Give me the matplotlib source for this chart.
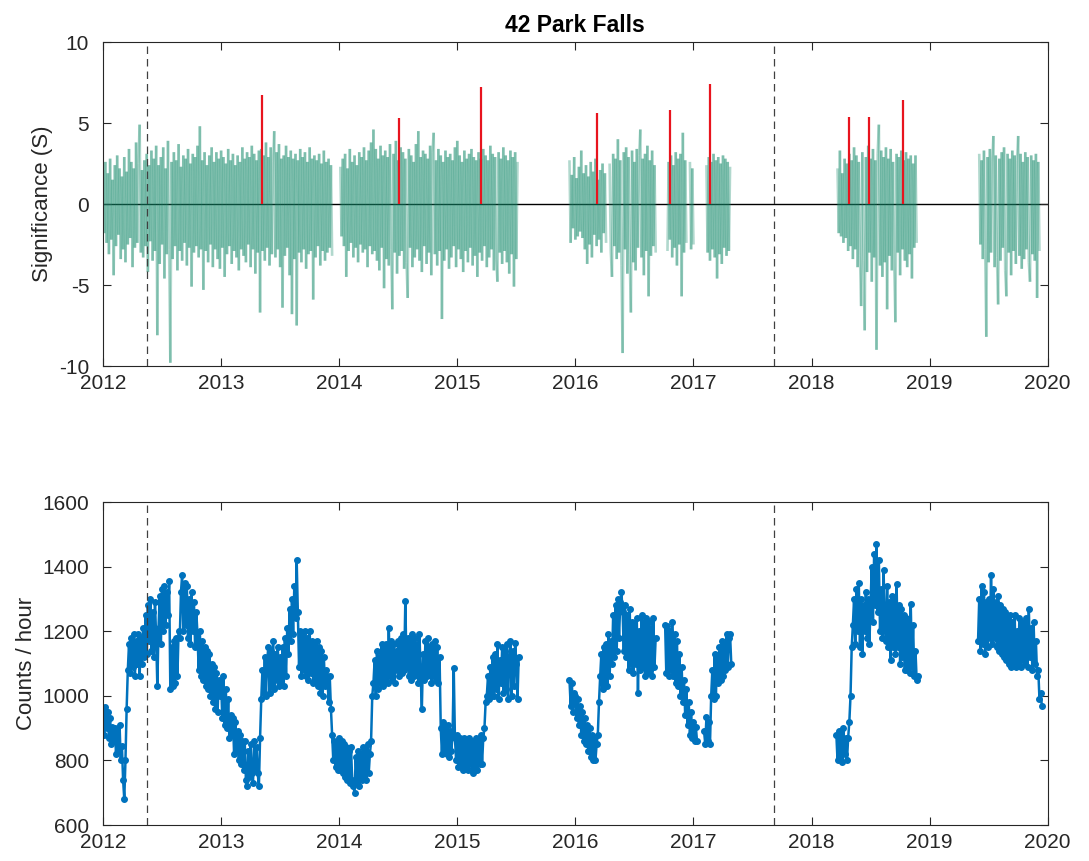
import numpy as np
import matplotlib.pyplot as plt
from matplotlib.collections import LineCollection

plt.rcParams['font.family'] = ['Liberation Sans', 'DejaVu Sans']
plt.rcParams['axes.unicode_minus'] = False

step = 0.01  # sample spacing, years

# ---- significance (S), one list per observing run ----
sig_a_start = 2012.00
sig_a = [2.1, -1.8, 2.6, -2.4, 1.9, -3.1, 2.8, -2.2, 1.5, -4.4, 2.4, -2.6, 3.0, -1.9, 2.2, -3.4, 1.7, -2.8, 2.9, -3.6,
         2.0, -2.5, 3.4, -2.1, 2.6, -3.9, 2.2, -2.7, 3.8, -2.4, 2.5, 4.9, -3.0, 2.1, -3.3, 2.7, -2.6, 3.1, -4.2, 2.4,
         -2.3, 3.3, -3.5, 2.8, -2.9, 3.6, -8.1, 2.4, -3.7, 2.9, -2.5, 3.5, -4.6, 2.2, -3.1, 3.9, -2.8, -9.8, 2.6, -3.4,
         3.2, -2.6, 2.7, -4.1, 3.7, -2.9, 2.3, -3.5, 3.0, -2.4, 2.8, -3.8, 3.4, -2.7, 2.5, -5.1, 3.1, -3.0, 2.9, -2.6,
         3.6, -3.3, 4.8, -2.8, 2.7, -5.3, 3.2, -2.9, 2.4, -3.6, 3.0, -2.5, 3.5, -3.9, 2.6, -2.8, 3.2, -3.4, 2.8, -4.0,
         3.3, -2.7, 2.9, -4.5, 2.5, -3.1, 3.4, -2.6, 2.7, -3.7, 3.1, -2.9, 2.4, -3.3, 3.0, -4.1, 2.6, -2.8, 3.5, -3.2,
         2.8, -3.6, 3.2, -2.5, 2.9, -3.9, 3.6, -2.8, 3.1, -4.3, 2.7, -3.0, 3.3, -6.7, 3.4, -2.9, 3.0, -3.5, 3.8, -2.7,
         2.9, -3.8, 3.5, -3.1, 2.6, 4.5, -3.3, 3.2, -2.8, 3.7, -3.9, 2.8, -6.4, 3.0, -3.2, 3.6, -2.7, 2.9, -4.4, 3.3,
         -6.8, 2.8, -3.4, 3.1, -7.5, 2.7, -3.0, 3.4, -3.6, 2.9, -2.8, 3.2, -4.0, 2.6, -3.1, 3.5, -2.9, 2.8, -5.9, 3.0,
         -3.3, 2.7, -2.6, 3.1, -3.8, 2.5, -2.9, 3.3, -3.5, 2.6, -3.0, 2.8, -2.7, 2.4, -3.2]
sig_b_start = 2014.01
sig_b = [2.3, -2.0, 2.8, -2.6, 3.1, -4.5, 2.2, -2.9, 3.4, -2.4, 2.6, -3.3, 3.0, -2.7, 2.4, -3.6, 3.2, -2.5, 2.9, -3.0,
         3.5, -2.8, 2.7, -3.9, 3.3, -2.6, 3.8, -3.1, 4.6, -2.9, 3.4, -3.5, 2.8, -4.1, 3.6, -2.7, 3.0, -5.2, 3.3, -3.4,
         2.9, -3.8, 3.7, -2.8, -6.5, 3.1, -3.0, 3.9, -4.3, 2.7, -3.2, 3.5, -2.9, 3.2, -4.0, 2.8, -3.6, -5.8, 3.4, -2.7,
         3.0, -3.9, 2.6, -3.3, 3.7, -2.8, 4.5, -3.5, 2.9, -4.2, 3.3, -2.6, 3.1, -3.7, 2.8, -3.0, 3.6, -4.4, 3.2, 4.4,
         -3.1, 2.7, -3.8, 3.4, -2.9, 3.0, -7.1, 2.6, -3.5, 3.3, -2.8, 2.9, -4.0, 3.1, -3.3, 2.7, -2.6, 3.5, -3.9, 3.9,
         -2.8, 3.0, -3.4, 2.6, -4.2, 3.3, -2.9, 2.8, -3.6, 3.1, -2.7, 3.4, -3.8, 2.9, -3.2, 2.7, -4.5, 3.2, -3.0, 2.8,
         -3.5, 3.4, -2.6, 3.0, -3.9, 2.7, -3.3, 3.6, -2.8, 3.1, -4.1, 2.9, -3.4, -4.8, 3.2, -3.0, 2.8, -3.7, 3.5, -2.9,
         3.0, -3.6, 2.7, -4.3, 3.3, -3.1, 2.9, -5.1, 3.2, -3.4, 2.6]
sig_c1_start = 2015.95
sig_c1 = [2.7, -2.4, 1.8, -1.5, 2.9, -2.2, 1.6, -2.0, 2.3, -1.7, 3.3, -2.1, 1.9, -2.8, 2.4, -3.7,
          1.7, -2.5, 2.6, -3.3, 2.0, -1.9, 2.8, -2.6, 1.5, -2.2, 2.1, -3.0, 2.5, -1.8, 1.9, -2.4]
sig_c2_start = 2016.29
sig_c2 = [2.5, -2.9, -4.5, 3.1, -2.6, 2.8, -3.4, 4.0, -3.0, 2.7, -3.8, -9.2, 3.2, -2.8, 3.5, -4.3, 2.9, -3.1, -6.7, 3.3,
          -3.6, 2.6, -4.1, 3.4, -2.7, 3.0, 4.6, -3.3, 2.8, -4.4, 3.1, -2.9, 3.6, -5.7, 2.7, -3.2, 3.3, -2.6, 2.4, -3.0]
sig_c3_start = 2016.78
sig_c3 = [-2.9, 2.6, -2.2, 3.0, -3.3, 2.4, -2.7, 3.2, -3.8, 2.8, -2.5, 3.1, -5.7, 4.4, -3.0, 2.7, -2.4]
sig_c4_start = 2016.97
sig_c4 = [2.6, -2.8, 2.2, -2.5]
sig_c5_start = 2017.11
sig_c5 = [2.4, -3.0, 2.9, -3.5, 2.6, -2.8, 3.1, -3.3, 2.7, -4.6, 2.9, -3.1, 2.5, -3.7, 3.0, -2.7, 2.8, -3.2, 2.6, -2.9, 2.3]
sig_d_start = 2018.22
sig_d = [2.2, -1.8, 3.3, -2.0, 1.9, -2.4, 2.8, -2.1, 2.5, -2.9, 3.1, -2.6, 2.7, -3.4, 3.5, -2.8, 3.0, -3.9, 2.6, -3.2,
         -6.3, 3.2, -3.5, -7.8, 2.9, -4.2, 3.6, -3.0, 2.8, -4.8, 3.4, -3.3, 2.7, -9.0, 3.1, 4.9, -3.8, 3.3, -4.5, 2.9,
         -3.6, 3.5, -6.5, 2.8, -3.2, 3.4, -4.1, 2.6, -3.7, -7.3, 3.1, -3.0, 2.9, -4.4, 3.3, -2.8, 2.7, -3.5, 3.2, -3.9,
         2.8, -3.1, 3.0, -4.6, 2.5, -2.7, 3.0, -2.4]
sig_e_start = 2019.42
sig_e = [3.1, -2.5, 2.7, -3.4, 3.3, -2.8, -8.2, 2.9, -3.6, 3.4, -3.0, 2.6, 4.2, -3.9, 3.0, -3.3, -6.2, 2.8, -3.5, 3.2,
         -2.7, 3.5, -4.1, -5.7, 3.1, -3.0, 2.8, -4.4, 3.3, -2.9, 3.0, -3.7, 2.7, 4.2, -3.2, 3.1, -4.0, 2.6, -3.4, 3.2,
         -2.8, 2.9, -3.6, -4.8, 3.0, -3.1, 2.7, -3.5, 3.1, -5.8, 2.6, -2.9]

# significant detections
event_years = [2013.349, 2014.507, 2015.200, 2016.180, 2016.800, 2017.140, 2018.314, 2018.490, 2018.777]
event_sig = [6.7, 5.3, 7.2, 5.6, 5.8, 7.4, 5.4, 5.4, 6.4]

# reference dates (dashed)
mark_years = [2012.372, 2017.684]

# ---- count rate (counts / hour) ----
cnt_a_start = 2012.00
cnt_a = [960, 880, 965, 900, 950, 870, 930, 850, 905, 860,
         900, 820, 885, 830, 910, 800, 845, 740, 680, 800,
         960, 1080, 1160, 1070, 1180, 1090, 1190, 1060, 1170, 1100,
         1190, 1060, 1180, 1100, 1210, 1120, 1250, 1130, 1280, 1170,
         1300, 1140, 1260, 1120, 1290, 1180, 1030, 1210, 1310, 1160,
         1330, 1200, 1340, 1220, 1320, 1250, 1355, 1020, 1150, 1030,
         1170, 1040, 1180, 1060, 1200, 1180, 1320, 1375, 1200, 1350,
         1220, 1340, 1180, 1300, 1160, 1320, 1200, 1290, 1150, 1260,
         1190, 1080, 1200, 1060, 1170, 1050, 1150, 1030, 1140, 1020,
         1130, 1000, 1100, 980, 1090, 960, 1070, 950, 1050, 1000,
         1040, 930, 1060, 910, 1020, 900, 990, 870, 940, 880,
         930, 820, 920, 830, 890, 800, 880, 790, 860, 770,
         860, 740, 720, 830, 750, 850, 760, 730, 860, 770,
         840, 760, 720, 870, 990, 1080, 1010, 1120, 1000, 1110,
         1150, 1010, 1140, 1030, 1170, 1020, 1130, 1050, 1150, 1030,
         1120, 1040, 1150, 1030, 1180, 1060, 1210, 1130, 1270, 1170,
         1300, 1190, 1340, 1240, 1420, 1260, 1090, 1200, 1060, 1190,
         1080, 1200, 1060, 1180, 1050, 1200, 1070, 1170, 1040, 1160,
         1050, 1170, 1030, 1150, 1010, 1140, 1000, 1120, 1030, 1080,
         1060, 980, 1060, 960, 880, 800, 860, 780, 850, 770,
         870, 770, 860, 760, 850, 750, 840, 740, 830, 730,
         840, 740, 720, 700, 810, 730, 830, 720, 820, 740,
         840, 750, 830, 740, 850, 760, 820, 860, 1000, 1040,
         1110, 1000, 1140, 1020, 1120, 1040, 1160, 1030, 1150, 1050,
         1160, 1040, 1210, 1060, 1170, 1050, 1160, 1040, 1140, 1080,
         1170, 1060, 1180, 1070, 1190, 1080, 1295, 1090, 1180, 1060,
         1170, 1050, 1190, 1060, 1180, 1070, 1160, 1040, 1190, 1060,
         960, 1130, 1050, 1170, 1060, 1180, 1070, 1150, 1040, 1160,
         1060, 1170, 1050, 1150, 1040, 1120, 900, 820, 920, 830,
         900, 820, 910, 810, 890, 830, 880, 1085, 870, 800,
         880, 780, 870, 790, 860, 770, 870, 780, 860, 770,
         870, 790, 860, 760, 850, 780, 870, 770, 860, 790,
         880, 790, 870, 900, 980, 1000, 1060, 990, 1090, 1000,
         1120, 1000, 1130, 1020, 1160, 990, 1110, 1040, 1150, 1010,
         1140, 1020, 1160, 990, 1110, 1170, 1000, 1140, 1030, 1165,
         1100, 990, 1120]
cnt_c1_start = 2015.95
cnt_c1 = [1050, 970, 1040, 950, 1010,
          1000, 930, 990, 910, 970, 880, 950, 860, 930, 850,
          910, 830, 900, 810, 880, 800, 870, 800, 850, 880,
          980, 1060, 1130, 1020, 1150, 1040, 1160, 1030, 1190, 1060,
          1170, 1100, 1250, 1120, 1280, 1140, 1300, 1180, 1290, 1320,
          1260, 1140, 1280, 1120, 1250, 1080, 1270, 1100, 1230, 1070,
          1220, 1100, 1240, 1010, 1200, 1080, 1250, 1090, 1230, 1060,
          1240, 1070, 1230, 1080, 1210, 1060, 1240, 1090, 1180]
cnt_c2_start = 2016.76
cnt_c2 = [1220, 1070, 1215, 1060, 1200, 1080, 1230, 1060, 1190, 1040, 1170, 1030, 1130, 1000,
          1090, 980, 1050, 940, 1020, 910, 980, 880, 950, 870, 920, 860, 905, 860]
cnt_c3_start = 2017.09
cnt_c3 = [890, 850, 935, 860, 920, 850, 1000, 1080, 990, 1130, 1000, 1120,
          1040, 1150, 1050, 1170, 1060, 1160, 1080, 1190, 1090, 1180, 1190, 1100]
cnt_d_start = 2018.21
cnt_d = [880, 800, 890, 810, 880, 795, 899, 820, 870,
         800, 870, 920, 1000, 1150, 1220, 1300, 1160, 1330, 1200,
         1350, 1150, 1300, 1130, 1280, 1200, 1320, 1180, 1300, 1160,
         1290, 1400, 1230, 1440, 1280, 1470, 1260, 1420, 1200, 1330,
         1180, 1390, 1220, 1170, 1340, 1150, 1290, 1110, 1310, 1150,
         1300, 1130, 1345, 1150, 1280, 1100, 1270, 1120, 1250, 1080,
         1240, 1080, 1230, 1070, 1285, 1090, 1220, 1060, 1140, 1050,
         1060]
cnt_e_start = 2019.41
cnt_e = [1170, 1300, 1140, 1340, 1160, 1320, 1130, 1290, 1150,
         1300, 1180, 1375, 1160, 1330, 1180, 1290, 1150, 1310, 1140,
         1280, 1130, 1270, 1120, 1260, 1110, 1240, 1100, 1250, 1090,
         1230, 1100, 1250, 1090, 1200, 1100, 1240, 1090, 1230, 1110,
         1220, 1100, 1240, 1090, 1270, 1120, 1210, 1080, 1230, 1100,
         1170, 1060, 1080, 990, 1010, 970]

sig_runs = [(sig_a_start, sig_a), (sig_b_start, sig_b), (sig_c1_start, sig_c1),
            (sig_c2_start, sig_c2), (sig_c3_start, sig_c3), (sig_c4_start, sig_c4),
            (sig_c5_start, sig_c5), (sig_d_start, sig_d), (sig_e_start, sig_e)]
cnt_runs = [(cnt_a_start, cnt_a), (cnt_c1_start, cnt_c1), (cnt_c2_start, cnt_c2),
            (cnt_c3_start, cnt_c3), (cnt_d_start, cnt_d), (cnt_e_start, cnt_e)]

years = list(range(2012, 2021))
green = '#13896a'
blue = '#0072BD'
frame = '#262626'


def style_axes(ax):
    ax.set_xlim(2012, 2020)
    ax.set_xticks(years)
    ax.set_xticklabels([str(y) for y in years])
    ax.tick_params(direction='in', top=True, right=True, length=6, width=0.8,
                   labelsize=15, colors=frame)
    ax.tick_params(axis='x', pad=6)
    ax.tick_params(axis='y', pad=10)
    for s in ax.spines.values():
        s.set_color(frame)
        s.set_linewidth(0.8)
    for yr in mark_years:
        ax.axvline(yr, color='#404040', lw=0.9, ls=(0, (6, 4)), zorder=4)


fig = plt.figure(figsize=(10.89, 8.61), dpi=100)
ax1 = fig.add_axes([0.0946, 0.5749, 0.8675, 0.3763])
ax2 = fig.add_axes([0.0946, 0.0418, 0.8675, 0.3751])

# top panel: significance, each step drawn as its own translucent segment
ax1.axhline(0, color='black', lw=1.0, zorder=1)
for start, vals in sig_runs:
    t = start + step * np.arange(len(vals))
    pts = np.column_stack([t, vals])
    segs = np.stack([pts[:-1], pts[1:]], axis=1)
    ax1.add_collection(LineCollection(segs, colors=green, linewidths=1.9, alpha=0.33, zorder=2))
ax1.vlines(event_years, 0, event_sig, color='#e8141e', lw=1.6, zorder=3)
ax1.set_ylim(-10, 10)
ax1.set_yticks([-10, -5, 0, 5, 10])
ax1.set_ylabel('Significance (S)', fontsize=16, color=frame)
ax1.set_title('42 Park Falls', fontsize=16.5, fontweight='bold', pad=7)
style_axes(ax1)

# bottom panel: count rate
for start, vals in cnt_runs:
    t = start + step * np.arange(len(vals))
    ax2.plot(t, vals, color=blue, lw=1.8, marker='o', ms=4.0, mec=blue, mfc=blue, zorder=2)
ax2.set_ylim(600, 1600)
ax2.set_yticks([600, 800, 1000, 1200, 1400, 1600])
ax2.set_ylabel('Counts / hour', fontsize=16, color=frame)
style_axes(ax2)

fig.savefig('out.png', dpi=100)
